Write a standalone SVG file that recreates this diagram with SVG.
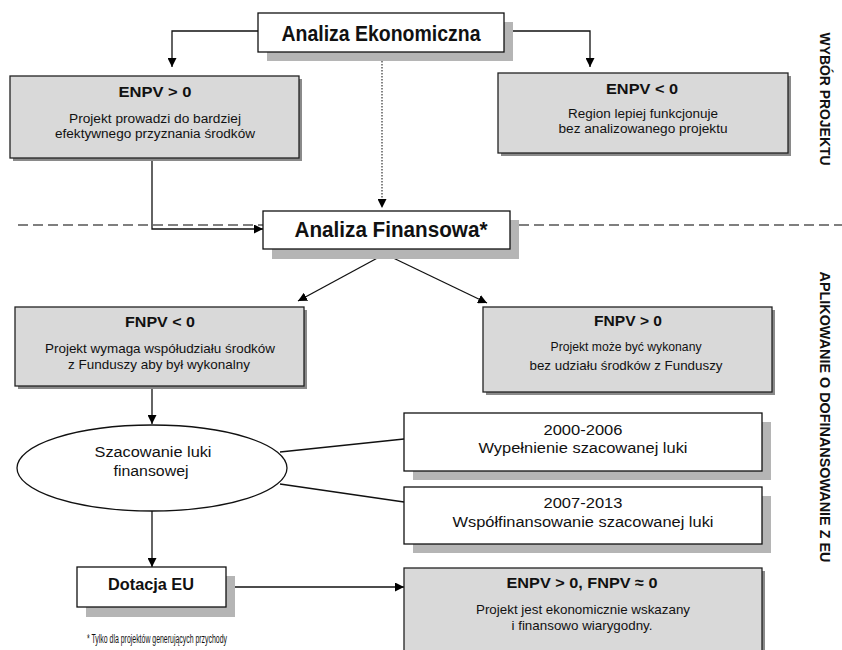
<svg xmlns="http://www.w3.org/2000/svg" width="842" height="650" viewBox="0 0 842 650">
<defs>
<marker id="arr" viewBox="0 0 10 10" refX="10" refY="5" markerWidth="9" markerHeight="9" markerUnits="userSpaceOnUse" orient="auto">
<path d="M0,0 L10,5 L0,10 z" fill="#000"/>
</marker>
<style>
.t{font-family:"Liberation Sans",Arial,sans-serif;fill:#111;text-anchor:middle}
.b{font-weight:bold}
.wbox{fill:#fff;stroke:#111;stroke-width:1.3}
.gbox{fill:#d9d9d9;stroke:#222;stroke-width:1.3}
.sh{fill:#b5b5b5}
.sh2{fill:#8a8a8a}
.c{fill:none;stroke:#111;stroke-width:1.3}
.dot{fill:none;stroke:#333;stroke-width:1.2;stroke-dasharray:1.5,1.5}
.dash{fill:none;stroke:#555;stroke-width:1.3;stroke-dasharray:10,5}
</style>
</defs>
<rect width="842" height="650" fill="#fff"/>

<g id="separator">
<path class="dash" d="M18,225 H263 M519,225 H842"/>
</g>

<g id="connectors">
<path class="c" d="M258,31 H172 V67" marker-end="url(#arr)"/>
<path class="c" d="M504,31 H590 V67" marker-end="url(#arr)"/>
<path class="dot" d="M382,52 V208" marker-end="url(#arr)"/>
<path class="c" d="M152,158 V229 H263" marker-end="url(#arr)"/>
<path class="c" d="M383,255 L298,301" marker-end="url(#arr)"/>
<path class="c" d="M387,255 L487,303" marker-end="url(#arr)"/>
<path class="c" d="M152,386 V424" marker-end="url(#arr)"/>
<path class="c" d="M152,511 V567" marker-end="url(#arr)"/>
<path class="c" d="M226,587 H404" marker-end="url(#arr)"/>
<path class="c" d="M280,452 L404,439"/>
<path class="c" d="M280,484 L404,502"/>
</g>

<g id="analiza-ekonomiczna">
<rect class="sh" x="267" y="22" width="246" height="39"/>
<rect class="wbox" x="258" y="13" width="246" height="39"/>
<text class="t b" x="381" y="41" font-size="22" textLength="199" lengthAdjust="spacingAndGlyphs">Analiza Ekonomiczna</text>
</g>

<g id="enpv-pos">
<rect class="sh2" x="13" y="79" width="289" height="82"/>
<rect class="gbox" x="10" y="76" width="289" height="82"/>
<text class="t b" x="155" y="97" font-size="14.5" textLength="73" lengthAdjust="spacingAndGlyphs">ENPV &gt; 0</text>
<text class="t" x="155" y="123" font-size="12.5" textLength="172" lengthAdjust="spacingAndGlyphs">Projekt prowadzi do bardziej</text>
<text class="t" x="155" y="138" font-size="12.5" textLength="200" lengthAdjust="spacingAndGlyphs">efektywnego przyznania środków</text>
</g>

<g id="enpv-neg">
<rect class="sh2" x="501" y="76" width="290" height="80"/>
<rect class="gbox" x="498" y="73" width="290" height="80"/>
<text class="t b" x="642" y="94" font-size="14.5" textLength="72" lengthAdjust="spacingAndGlyphs">ENPV &lt; 0</text>
<text class="t" x="643" y="118" font-size="12.5" textLength="150" lengthAdjust="spacingAndGlyphs">Region lepiej funkcjonuje</text>
<text class="t" x="643" y="133" font-size="12.5" textLength="169" lengthAdjust="spacingAndGlyphs">bez analizowanego projektu</text>
</g>

<g id="label-wybor">
<text class="t b" font-size="14.5" transform="translate(820,99) rotate(90)" textLength="133" lengthAdjust="spacingAndGlyphs">WYBÓR PROJEKTU</text>
</g>

<g id="analiza-finansowa">
<rect class="sh" x="272" y="220" width="247" height="39"/>
<rect class="wbox" x="263" y="211" width="247" height="38"/>
<text class="t b" x="391" y="237" font-size="22" textLength="193" lengthAdjust="spacingAndGlyphs">Analiza Finansowa*</text>
</g>

<g id="fnpv-neg">
<rect class="sh2" x="18" y="310" width="289" height="79"/>
<rect class="gbox" x="15" y="307" width="289" height="79"/>
<text class="t b" x="160" y="327" font-size="14.5" textLength="70" lengthAdjust="spacingAndGlyphs">FNPV &lt; 0</text>
<text class="t" x="160" y="353" font-size="13" textLength="230" lengthAdjust="spacingAndGlyphs">Projekt wymaga współudziału środków</text>
<text class="t" x="159" y="369" font-size="13" textLength="182" lengthAdjust="spacingAndGlyphs">z Funduszy aby był wykonalny</text>
</g>

<g id="fnpv-pos">
<rect class="sh2" x="486" y="310" width="289" height="85"/>
<rect class="gbox" x="483" y="307" width="289" height="85"/>
<text class="t b" x="628" y="326" font-size="14.5" textLength="68" lengthAdjust="spacingAndGlyphs">FNPV &gt; 0</text>
<text class="t" x="626" y="351" font-size="13" textLength="151" lengthAdjust="spacingAndGlyphs">Projekt może być wykonany</text>
<text class="t" x="626" y="370" font-size="13" textLength="193" lengthAdjust="spacingAndGlyphs">bez udziału środków z Funduszy</text>
</g>

<g id="label-aplikowanie">
<text class="t b" font-size="14.5" transform="translate(820,417) rotate(90)" textLength="291" lengthAdjust="spacingAndGlyphs">APLIKOWANIE O DOFINANSOWANIE Z EU</text>
</g>

<g id="szacowanie">
<ellipse cx="152" cy="468" rx="135" ry="43" fill="#fff" stroke="#111" stroke-width="1.3"/>
<text class="t" x="153" y="457" font-size="15.5" textLength="117" lengthAdjust="spacingAndGlyphs">Szacowanie luki</text>
<text class="t" x="151" y="476" font-size="15.5" textLength="75" lengthAdjust="spacingAndGlyphs">finansowej</text>
</g>

<g id="okres-2000">
<rect class="sh" x="413" y="422" width="358" height="58"/>
<rect class="wbox" x="404" y="413" width="358" height="58"/>
<text class="t" x="583" y="435" font-size="15.5" textLength="79" lengthAdjust="spacingAndGlyphs">2000-2006</text>
<text class="t" x="583" y="453" font-size="15.5" textLength="209" lengthAdjust="spacingAndGlyphs">Wypełnienie szacowanej luki</text>
</g>

<g id="okres-2007">
<rect class="sh" x="413" y="496" width="358" height="57"/>
<rect class="wbox" x="404" y="487" width="358" height="57"/>
<text class="t" x="583" y="508" font-size="15.5" textLength="79" lengthAdjust="spacingAndGlyphs">2007-2013</text>
<text class="t" x="583" y="527" font-size="15.5" textLength="261" lengthAdjust="spacingAndGlyphs">Współfinansowanie szacowanej luki</text>
</g>

<g id="dotacja">
<rect class="sh" x="86" y="576" width="149" height="41"/>
<rect class="wbox" x="77" y="567" width="149" height="40"/>
<text class="t b" x="151" y="590" font-size="16" textLength="86" lengthAdjust="spacingAndGlyphs">Dotacja EU</text>
</g>

<g id="wynik">
<rect class="sh2" x="407" y="571" width="358" height="90"/>
<rect class="gbox" x="404" y="568" width="358" height="90"/>
<text class="t b" x="582" y="588" font-size="15.5" textLength="151" lengthAdjust="spacingAndGlyphs">ENPV &gt; 0, FNPV ≈ 0</text>
<text class="t" x="583" y="614" font-size="13.5" textLength="214" lengthAdjust="spacingAndGlyphs">Projekt jest ekonomicznie wskazany</text>
<text class="t" x="582" y="630" font-size="13.5" textLength="141" lengthAdjust="spacingAndGlyphs">i finansowo wiarygodny.</text>
</g>

<g id="footnote">
<text class="t" x="157" y="643" font-size="12" textLength="140" lengthAdjust="spacingAndGlyphs">* Tylko dla projektów generujących przychody</text>
</g>
</svg>
